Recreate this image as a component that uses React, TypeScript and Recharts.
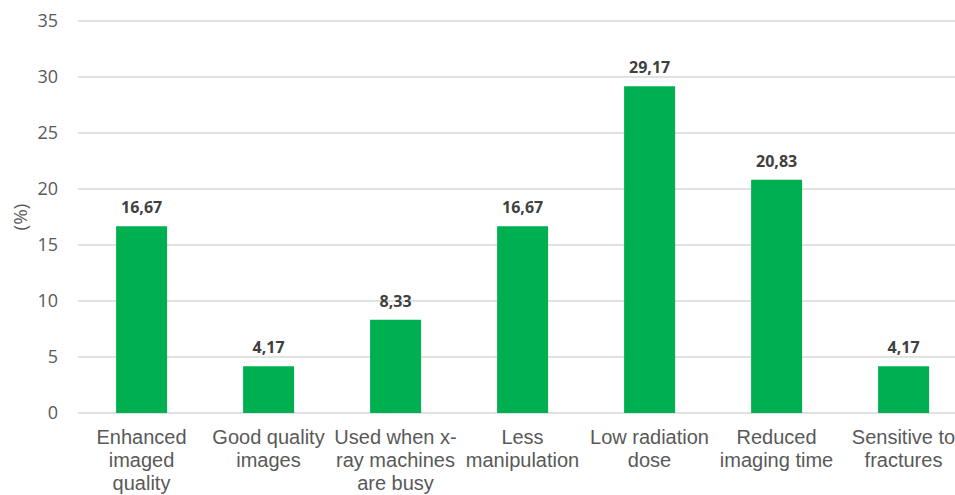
import { BarChart, Bar, XAxis, YAxis, CartesianGrid, LabelList } from "recharts";

// ─── Data ────────────────────────────────────────────────────────────────────

const categories = [
  "Enhanced\nimaged\nquality",
  "Good quality\nimages",
  "Used when x-\nray machines\nare busy",
  "Less\nmanipulation",
  "Low radiation\ndose",
  "Reduced\nimaging time",
  "Sensitive to\nfractures",
];

const percentages = [16.67, 4.17, 8.33, 16.67, 29.17, 20.83, 4.17];

const yTicks = [0, 5, 10, 15, 20, 25, 30, 35];

const rows = categories.map((name, i) => ({ name, value: percentages[i] }));

// ─── Helpers ─────────────────────────────────────────────────────────────────

const fmtComma = (v: number) => v.toFixed(2).replace(".", ",");

function CategoryTick({ x, y, payload }: any) {
  const lines = String(payload.value).split("\n");
  return (
    <text
      x={x}
      y={y}
      textAnchor="middle"
      fill="#595959"
      fontSize={20}
      fontFamily="'Liberation Sans', Arial, sans-serif"
    >
      {lines.map((line, i) => (
        <tspan key={i} x={x} dy={i === 0 ? 23 : 23}>
          {line}
        </tspan>
      ))}
    </text>
  );
}

function AxisTitle({ viewBox }: any) {
  const cx = viewBox.x + 20;
  const cy = viewBox.y + viewBox.height / 2;
  return (
    <text
      x={cx}
      y={cy}
      transform={`rotate(-90 ${cx} ${cy})`}
      textAnchor="middle"
      dominantBaseline="central"
      fill="#595959"
      fontSize={19}
      fontFamily="'Open Sans', sans-serif"
    >
      (%)
    </text>
  );
}

// ─── Component ───────────────────────────────────────────────────────────────

export default function App() {
  return (
    <div
      style={{
        position: "fixed",
        top: 0,
        left: 0,
        width: 955,
        height: 495,
        overflow: "hidden",
        background: "#fff",
      }}
    >
      <BarChart
        width={980}
        height={495}
        data={rows}
        margin={{ top: 21, right: 13, bottom: 0, left: 0 }}
        barCategoryGap="30%"
      >
        <CartesianGrid vertical={false} stroke="#d9d9d9" strokeWidth={1.5} />
        <XAxis
          dataKey="name"
          height={82}
          axisLine={false}
          tickLine={false}
          interval={0}
          tick={<CategoryTick />}
        />
        <YAxis
          width={78}
          domain={[0, 35]}
          ticks={yTicks}
          axisLine={false}
          tickLine={false}
          tickMargin={14}
          tick={{ fill: "#595959", fontSize: 18, fontFamily: "'Open Sans', sans-serif" }}
          label={<AxisTitle />}
        />
        <Bar dataKey="value" fill="#00b050" isAnimationActive={false}>
          <LabelList
            dataKey="value"
            position="top"
            offset={13}
            formatter={(v: any) => fmtComma(Number(v))}
            fill="#404040"
            fontSize={16}
            fontWeight="bold"
            fontFamily="'Open Sans', sans-serif"
          />
        </Bar>
      </BarChart>
    </div>
  );
}
